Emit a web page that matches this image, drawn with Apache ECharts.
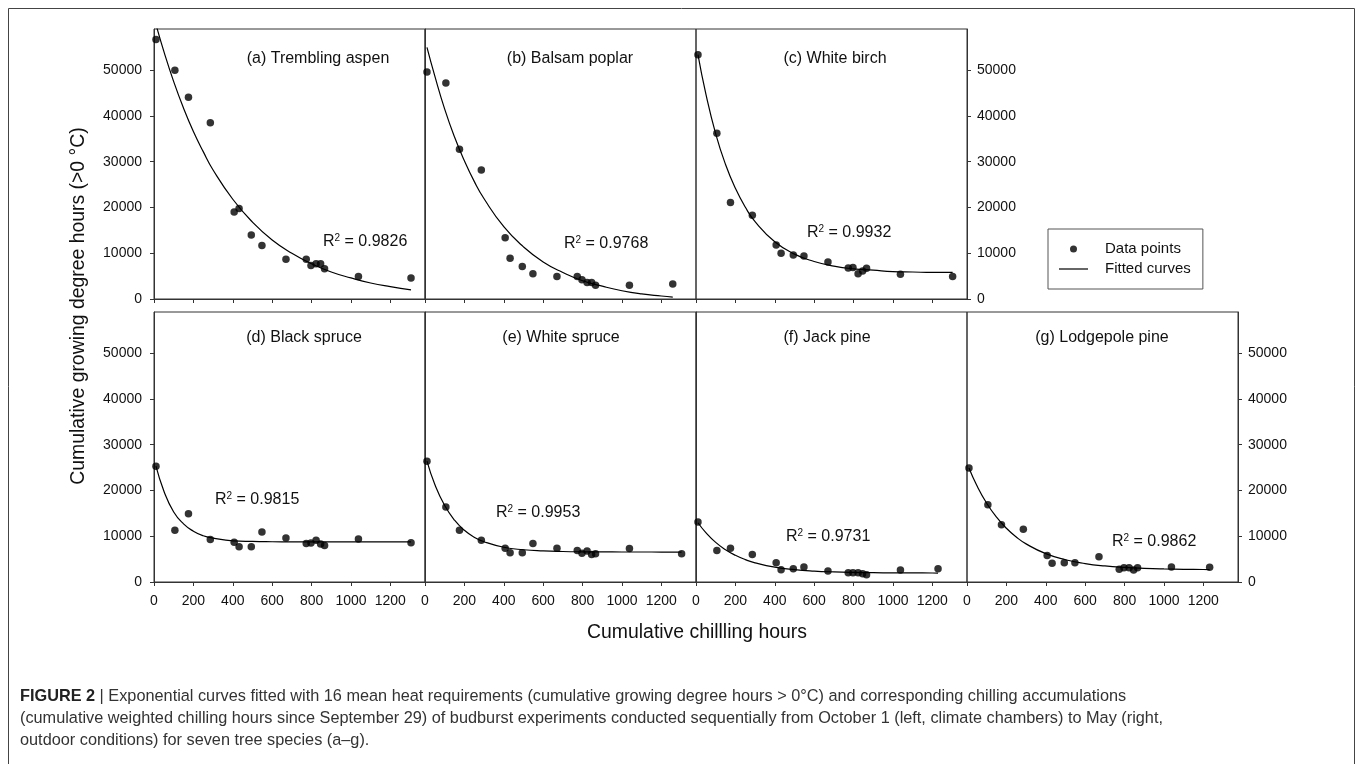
<!DOCTYPE html>
<html><head><meta charset="utf-8">
<script src="https://cdn.jsdelivr.net/npm/echarts@6/dist/echarts.min.js"></script>
<style>html,body{margin:0;padding:0;background:#fff}#c{width:1358px;height:764px}</style>
</head><body><div id="c"></div>
<script>
// ---------- DATA ----------
const chillHours = [10, 106, 175, 286, 407, 432, 494, 548, 670, 773, 797, 823, 846, 866, 1038];
const lastChill = [1305, 1258, 1303, 1305, 1303, 1229, 1232];
const speciesTitles = ['(a) Trembling aspen', '(b) Balsam poplar', '(c) White birch', '(d) Black spruce', '(e) White spruce', '(f) Jack pine', '(g) Lodgepole pine'];
const rSquared = ['0.9826', '0.9768', '0.9932', '0.9815', '0.9953', '0.9731', '0.9862'];

const gdhA = [56700, 50000, 44100, 38500, 19000, 19800, 14000, 11700, 8700, 8700, 7300, 7700, 7700, 6600, 4900, 4600];
const gdhB = [49600, 47200, 32700, 28200, 13400, 8900, 7100, 5500, 4900, 4900, 4200, 3600, 3600, 3000, 3000, 3300];
const gdhC = [53400, 36200, 21100, 18300, 11800, 10000, 9600, 9400, 8100, 6800, 6900, 5500, 6100, 6700, 5400, 4900];
const gdhD = [25300, 11300, 14900, 9300, 8700, 7700, 7700, 10900, 9600, 8400, 8500, 9100, 8300, 8000, 9400, 8600];
const gdhE = [26400, 16400, 11300, 9100, 7400, 6400, 6400, 8400, 7400, 6900, 6300, 6800, 6000, 6200, 7300, 6200];
const gdhF = [13100, 6900, 7400, 6000, 4200, 2700, 2900, 3300, 2400, 2000, 2000, 2000, 1800, 1600, 2600, 2900];
const gdhG = [24900, 16900, 12500, 11500, 5800, 4100, 4200, 4200, 5500, 2800, 3100, 3100, 2600, 3100, 3300, 3200];

// fitted curves at these chilling hours (first data x, ..., last data x)
const curveChillMid = [50, 100, 150, 200, 250, 300, 400, 500, 600, 700, 800, 900, 1000, 1100, 1200];
const fitA = [60000, 54100, 47500, 41700, 36600, 32200, 28200, 21800, 16800, 12900, 10000, 7700, 5900, 4600, 3500, 2700, 2000];
const fitB = [55000, 48700, 41500, 35400, 30200, 25700, 21900, 15800, 11400, 8100, 5800, 4000, 2800, 1800, 1100, 650, 430];
const fitC = [53400, 44800, 36100, 29400, 24200, 20100, 16900, 12500, 9800, 8200, 7200, 6600, 6300, 6000, 5900, 5800, 5800];
const fitD = [25300, 19900, 15300, 12700, 11100, 10100, 9600, 9000, 8860, 8800, 8770, 8760, 8760, 8760, 8760, 8760, 8760];
const fitE = [26400, 21300, 16700, 13500, 11300, 9800, 8800, 7600, 7050, 6790, 6660, 6600, 6580, 6560, 6555, 6550, 6550];
const fitF = [12950, 10800, 8660, 7050, 5830, 4900, 4190, 3240, 2700, 2380, 2200, 2090, 2030, 2000, 1980, 1970, 1960];
const fitG = [24900, 21070, 17200, 14150, 11740, 9830, 8330, 6190, 4860, 4030, 3510, 3190, 2990, 2860, 2780, 2730, 2720];

const xTickValues = [0, 200, 400, 600, 800, 1000, 1200];
const yTickValues = [0, 10000, 20000, 30000, 40000, 50000];
const xMax = 1376, yMax = 59000;

const yAxisTitle = 'Cumulative growing degree hours (>0 °C)';
const xAxisTitle = 'Cumulative chillling hours';
const captionLines = [
  ['FIGURE 2', ' | Exponential curves fitted with 16 mean heat requirements (cumulative growing degree hours > 0°C) and corresponding chilling accumulations'],
  ['', '(cumulative weighted chilling hours since September 29) of budburst experiments conducted sequentially from October 1 (left, climate chambers) to May (right,'],
  ['', 'outdoor conditions) for seven tree species (a–g).']
];

// ---------- LAYOUT ----------
const FONT = '"Liberation Sans", Arial, sans-serif';
const INK = '#111';
const AX = '#333';
const W = 271, H = 270;
const layout = [
  {left: 154, top: 29, yPos: 'left', yLabels: true, xLabels: false, title: [318, 59], r2: [323, 242]},
  {left: 425, top: 29, yPos: 'left', yLabels: false, xLabels: false, title: [570, 59], r2: [564, 244]},
  {left: 696, top: 29, yPos: 'right', yLabels: true, xLabels: false, title: [835, 59], r2: [807, 233]},
  {left: 154, top: 312, yPos: 'left', yLabels: true, xLabels: true, title: [304, 338], r2: [215, 500]},
  {left: 425, top: 312, yPos: 'left', yLabels: false, xLabels: true, title: [561, 338], r2: [496, 513]},
  {left: 696, top: 312, yPos: 'left', yLabels: false, xLabels: true, title: [827, 338], r2: [786, 537]},
  {left: 967, top: 312, yPos: 'right', yLabels: true, xLabels: true, title: [1102, 338], r2: [1112, 542]}
];
const gdh = [gdhA, gdhB, gdhC, gdhD, gdhE, gdhF, gdhG];
const fits = [fitA, fitB, fitC, fitD, fitE, fitF, fitG];

const grids = [], xAxes = [], yAxes = [], series = [], graphics = [];
layout.forEach((p, i) => {
  grids.push({left: p.left, top: p.top, width: W, height: H, show: true, borderColor: AX, borderWidth: 1,
    backgroundColor: 'transparent', containLabel: false, outerBoundsMode: 'none'});
  xAxes.push({gridIndex: i, type: 'value', min: 0, max: xMax,
    axisLine: {show: true, onZero: false, lineStyle: {color: AX, width: 1}},
    axisTick: {show: true, inside: false, length: 4, customValues: xTickValues, lineStyle: {color: AX, width: 1}},
    axisLabel: {show: p.xLabels, customValues: xTickValues, margin: 12, fontSize: 14, color: INK, fontFamily: FONT,
      formatter: v => String(v)},
    splitLine: {show: false}});
  yAxes.push({gridIndex: i, type: 'value', min: 0, max: yMax, position: p.yPos,
    axisLine: {show: true, onZero: false, lineStyle: {color: AX, width: 1}},
    axisTick: {show: p.yLabels, inside: false, length: 4, customValues: yTickValues, lineStyle: {color: AX, width: 1}},
    axisLabel: {show: p.yLabels, customValues: yTickValues, margin: p.yPos === 'left' ? 12 : 10, fontSize: 14, color: INK, fontFamily: FONT,
      formatter: v => String(v)},
    splitLine: {show: false}});
  const xs = chillHours.concat([lastChill[i]]);
  series.push({name: 'Data points', type: 'scatter', xAxisIndex: i, yAxisIndex: i,
    data: xs.map((x, k) => [x, gdh[i][k]]), symbol: 'circle', symbolSize: 7.5,
    itemStyle: {color: '#000'}, z: 3, silent: true});
  const cx = [chillHours[0]].concat(curveChillMid, [lastChill[i]]);
  series.push({name: 'Fitted curves', type: 'line', xAxisIndex: i, yAxisIndex: i,
    data: cx.map((x, k) => [x, fits[i][k]]), showSymbol: false, symbol: 'none', smooth: 0.5,
    lineStyle: {color: '#000', width: 1.2}, itemStyle: {color: '#000'}, z: 2, silent: true, clip: true});
  graphics.push({type: 'text', x: p.title[0], y: p.title[1], style: {text: speciesTitles[i], fill: INK,
    font: '16px ' + FONT, textAlign: 'center', textVerticalAlign: 'middle'}});
  graphics.push({type: 'text', x: p.r2[0], y: p.r2[1], style: {
    text: '{r|R}{s|2}{r| = ' + rSquared[i] + '}', textAlign: 'left', textVerticalAlign: 'middle',
    rich: {r: {fontSize: 16, fontFamily: FONT, fill: INK, color: INK, lineHeight: 18},
           s: {fontSize: 10, fontFamily: FONT, fill: INK, color: INK, lineHeight: 10, verticalAlign: 'top'}}}});
});

// frame
graphics.unshift({type: 'rect', shape: {x: 8.5, y: 8.5, width: 1346, height: 800}, style: {fill: 'none', stroke: '#444', lineWidth: 1}, silent: true});
// axis titles
graphics.push({type: 'text', x: 79, y: 306, rotation: Math.PI / 2, style: {text: yAxisTitle, fill: INK,
  font: '19.4px ' + FONT, textAlign: 'center', textVerticalAlign: 'middle'}});
graphics.push({type: 'text', x: 697, y: 633, style: {text: xAxisTitle, fill: INK,
  font: '19.4px ' + FONT, textAlign: 'center', textVerticalAlign: 'middle'}});
// caption
const CAPFONT = '"Liberation Sans", Arial, sans-serif';
captionLines.forEach((ln, j) => {
  const txt = (ln[0] ? '{b|' + ln[0] + '}' : '') + '{n|' + ln[1] + '}';
  graphics.push({type: 'text', x: 20, y: 697 + j * 22, style: {text: txt, textAlign: 'left', textVerticalAlign: 'middle',
    rich: {b: {fontSize: 16.3, fontWeight: 'bold', fontFamily: CAPFONT, fill: '#222', color: '#222'},
           n: {fontSize: 16.3, fontFamily: CAPFONT, fill: '#333', color: '#333'}}}});
});

const option = {
  animation: false,
  backgroundColor: '#fff',
  grid: grids, xAxis: xAxes, yAxis: yAxes, series: series,
  legend: {show: true, left: 1048, top: 229, orient: 'vertical', selectedMode: false,
    data: [{name: 'Data points', icon: 'circle'}, {name: 'Fitted curves', icon: 'path://M0,0H29V1.2H0Z'}],
    itemWidth: 29, itemHeight: 7, itemGap: 2, padding: [11, 12, 11, 11], symbolKeepAspect: true,
    borderColor: '#555', borderWidth: 1, backgroundColor: '#fff',
    textStyle: {fontSize: 15, fontFamily: FONT, color: INK, lineHeight: 18, padding: [0, 0, 0, 12]}},
  graphic: graphics
};
const chart = echarts.init(document.getElementById('c'), null, {renderer: 'canvas'});
chart.setOption(option);
</script></body></html>
